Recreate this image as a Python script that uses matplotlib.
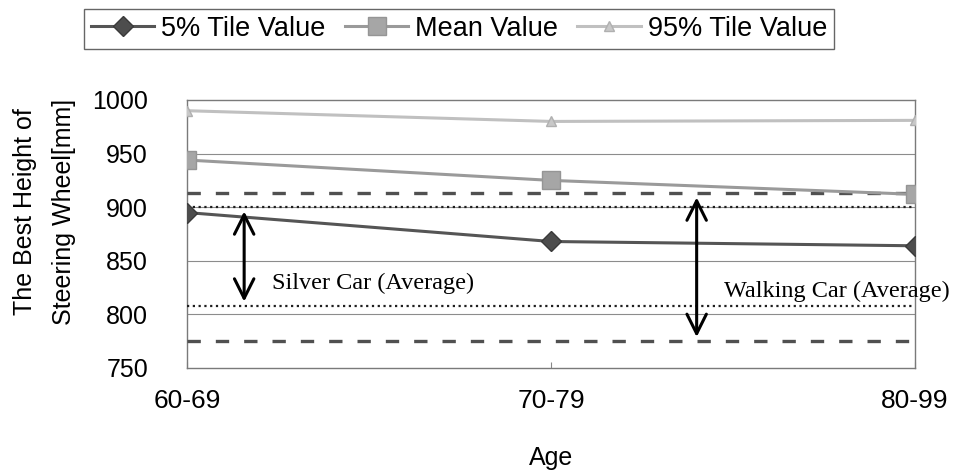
import matplotlib
matplotlib.use("Agg")
import matplotlib.pyplot as plt

# age groups on the x axis
age_groups = ["60-69", "70-79", "80-99"]

# best steering wheel height [mm]
p5_values = [895, 868, 864]
mean_values = [944, 925, 912]
p95_values = [990, 980, 981]

# reference levels (Average of the two car types)
silver_car = [900, 808]
walking_car = [913, 775]

y_ticks = [750, 800, 850, 900, 950, 1000]

SANS = ["Liberation Sans", "DejaVu Sans"]
SERIF = ["Liberation Serif", "DejaVu Serif"]
plt.rcParams["font.family"] = SANS

fig = plt.figure(figsize=(9.57, 4.71), dpi=100)
ax = fig.add_axes([0.1954, 0.2187, 0.7608, 0.569])

x = list(range(len(age_groups)))

for v in y_ticks[1:-1]:
    ax.axhline(v, color="#8c8c8c", lw=0.8, zorder=1)

ax.plot(x, p5_values, color="#555555", lw=2.2, marker="D", ms=10.5,
        mfc="#4d4d4d", mec="#3a3a3a", label="5% Tile Value", zorder=4)
ax.plot(x, mean_values, color="#9a9a9a", lw=2.2, marker="s", ms=12.5,
        mfc="#a6a6a6", mec="#959595", label="Mean Value", zorder=4)
ax.plot(x, p95_values, color="#c0c0c0", lw=2.2, marker="^", ms=7.5,
        mfc="#c8c8c8", mec="#b0b0b0", label="95% Tile Value", zorder=4)

for v in silver_car:
    ax.axhline(v, color="#1e1e1e", lw=1.6, ls=(0, (1, 1.6)), zorder=3)
for v in walking_car:
    ax.axhline(v, color="#505050", lw=2.4, ls=(0, (4, 4.5)), zorder=3)

arrow_style = dict(arrowstyle="<->,head_length=0.7,head_width=0.35",
                   mutation_scale=20, color="black", lw=2.2,
                   shrinkA=3, shrinkB=3)
ax.annotate("", xy=(0.157, silver_car[1]), xytext=(0.157, silver_car[0]),
            arrowprops=arrow_style, zorder=5)
ax.annotate("", xy=(1.40, walking_car[1]), xytext=(1.40, walking_car[0]),
            arrowprops=arrow_style, zorder=5)

ax.text(0.234, 829, "Silver Car (Average)", family=SERIF,
        fontsize=17.5, va="center", ha="left")
ax.text(1.475, 821, "Walking Car (Average)", family=SERIF,
        fontsize=17.5, va="center", ha="left")

ax.set_xlim(0, 2)
ax.set_ylim(750, 1000)
ax.set_xticks(x)
ax.set_xticklabels(age_groups)
ax.set_yticks(y_ticks)
ax.tick_params(axis="y", length=0, labelsize=18, pad=28)
ax.tick_params(axis="x", direction="in", length=4, color="#888888",
               labelsize=19, pad=15)
for s in ax.spines.values():
    s.set_color("#7a7a7a")
    s.set_linewidth(1.0)

ax.set_xlabel("Age", fontsize=18)
ax.xaxis.set_label_coords(0.5, -0.29)
ax.set_ylabel("The Best Height of\nSteering Wheel[mm]", fontsize=18,
              linespacing=1.75)
ax.yaxis.set_label_coords(-0.153, 0.582)

leg = fig.legend(loc="upper left", bbox_to_anchor=(84 / 957, 1 - 9 / 471),
                 ncol=3, fontsize=19.5, frameon=True, fancybox=False,
                 edgecolor="#404040", handlelength=2.35, handletextpad=0.26,
                 columnspacing=0.7, borderpad=0.25, borderaxespad=0)
leg.get_frame().set_linewidth(1.0)

fig.savefig("out.png", dpi=100)
